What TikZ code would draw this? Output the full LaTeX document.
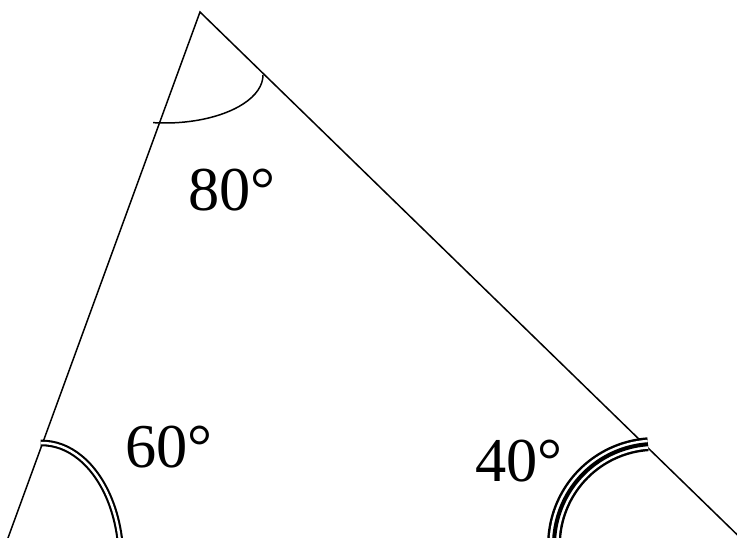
\documentclass[tikz,border=0pt]{standalone}
\usepackage{fontspec}
\setmainfont{Liberation Serif}
\begin{document}
\begin{tikzpicture}[side/.style={line width=0.85pt}, deg/.style={font=\fontsize{35.5}{40}\selectfont, inner sep=0pt}]
	\clip (0, 0) rectangle (14.74, 10.76);
	\coordinate (A) at (4, 10.52);
	\coordinate (L) at (0.05, -0.3);
	\coordinate (R) at (15.12, -0.3);
	\coordinate (Ac) at (3.30, 9.26);
	\coordinate (Lc) at (0.84, -0.44);
	\coordinate (Rc) at (13.10, -0.14);
	\draw[side] (L)--(A)--(R);
	\draw[side] ([shift={(263:1.96 and 0.96)}]Ac) arc[start angle=263, end angle=360, x radius=1.96, y radius=0.96];
	\draw[line width=1.2pt, double, double distance=1.4pt] ([shift={(91:1.58 and 2.34)}]Lc) arc[start angle=91, end angle=0, x radius=1.58, y radius=2.34];
	\foreach \w/\c in {7.9pt/black, 5.1pt/white, 2.3pt/black}
		\draw[line width=\w, \c] ([shift={(94:2.02)}]Rc) arc[start angle=94, end angle=190, radius=2.02];
	\node[deg] (top) at (4.64, 6.96) {80°};
	\node[deg] (left) at (3.38, 1.82) {60°};
	\node[deg] (right) at (10.38, 1.54) {40°};
\end{tikzpicture}
\end{document}
